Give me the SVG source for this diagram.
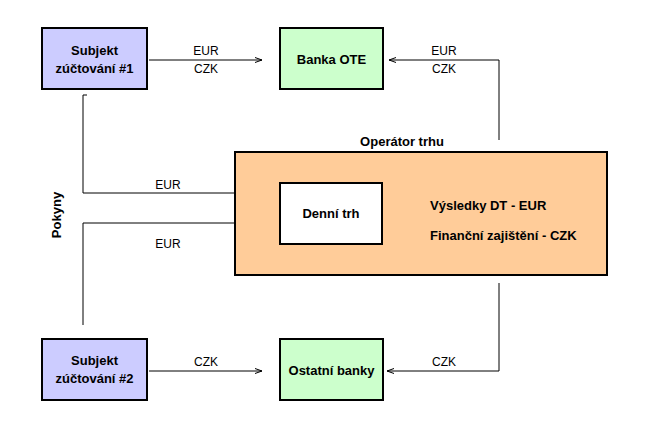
<svg xmlns="http://www.w3.org/2000/svg" width="650" height="430" viewBox="0 0 650 430">
<style>
.b{font-family:"Liberation Sans",Arial,sans-serif;font-weight:bold;font-size:13px;fill:#000}
.t{font-family:"Liberation Sans",Arial,sans-serif;font-size:12px;fill:#000}
.c{text-anchor:middle}
.n{stroke:#000;stroke-width:2}
.l{fill:none;stroke:#000;stroke-width:1}
</style>
<defs><marker id="a" markerWidth="8" markerHeight="6" refX="7" refY="3" orient="auto" markerUnits="userSpaceOnUse"><path d="M0,0.5 L7,3 L0,5.5" fill="none" stroke="#000" stroke-width="1"/></marker></defs>
<rect width="650" height="430" fill="#fff"/>
<g id="connectors">
<line class="l" x1="149" y1="60" x2="262" y2="60" marker-end="url(#a)"/>
<polyline class="l" points="499,140 499,60 389,60" marker-end="url(#a)"/>
<polyline class="l" points="499,283 499,371 387,371" marker-end="url(#a)"/>
<line class="l" x1="149" y1="371" x2="262" y2="371" marker-end="url(#a)"/>
<polyline class="l" points="87,95 83,95 83,193 262,193" marker-end="url(#a)"/>
<polyline class="l" points="83,325 83,223 262,223" marker-end="url(#a)"/>
<text class="t c" x="206" y="55">EUR</text>
<text class="t c" x="206" y="73">CZK</text>
<text class="t c" x="444" y="55">EUR</text>
<text class="t c" x="444" y="73">CZK</text>
<text class="t c" x="206" y="366">CZK</text>
<text class="t c" x="444" y="366">CZK</text>
<text class="t c" x="168" y="189">EUR</text>
<text class="t c" x="168" y="248">EUR</text>
<text class="b c" transform="translate(61,215) rotate(-90)">Pokyny</text>
</g>
<g id="s1"><rect class="n" x="42" y="28" width="105" height="61" fill="#ccccff"/><text class="b c" x="94.5" y="55">Subjekt</text><text class="b c" x="94.5" y="73">zúčtování #1</text></g>
<g id="bankaote"><rect class="n" x="280" y="28" width="103" height="61" fill="#ccffcc"/><text class="b c" x="331.5" y="64">Banka OTE</text></g>
<g id="operator"><rect class="n" x="235" y="152" width="372" height="123" fill="#ffcc99"/><text class="b c" x="402" y="146">Operátor trhu</text><text class="b" x="430" y="210">Výsledky DT - EUR</text><text class="b" x="430" y="240">Finanční zajištění - CZK</text></g>
<g id="dennitrh"><rect class="n" x="280" y="183" width="102" height="61" fill="#fff"/><text class="b c" x="331" y="218">Denní trh</text></g>
<g id="s2"><rect class="n" x="42" y="339" width="105" height="61" fill="#ccccff"/><text class="b c" x="94.5" y="365">Subjekt</text><text class="b c" x="94.5" y="383">zúčtování #2</text></g>
<g id="ostatni"><rect class="n" x="280" y="339" width="103" height="61" fill="#ccffcc"/><text class="b c" x="331.5" y="375">Ostatní banky</text></g>
</svg>
